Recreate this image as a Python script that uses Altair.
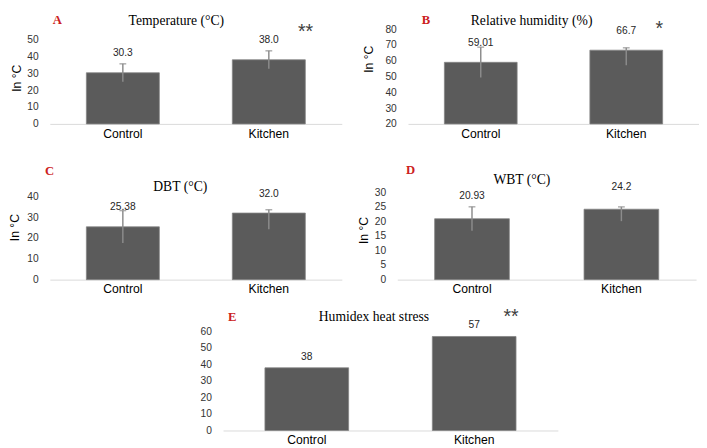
import altair as alt
import pandas as pd

cats = ["Control", "Kitchen"]

# Panel A - Temperature
a_vals = [30.3, 38.0]
a_up = [5.3, 5.3]
a_low = [5.3, 5.3]
a_lab = ["30.3", "38.0"]
a_star = ["", "**"]
a_ticks = [0, 10, 20, 30, 40, 50]

# Panel B - Relative humidity
b_vals = [59.01, 66.7]
b_up = [9.6, 1.5]
b_low = [9.6, 9.6]
b_lab = ["59.01", "66.7"]
b_star = ["", "*"]
b_ticks = [20, 30, 40, 50, 60, 70, 80]

# Panel C - DBT
c_vals = [25.38, 32.0]
c_up = [7.8, 1.6]
c_low = [7.8, 7.8]
c_lab = ["25.38", "32.0"]
c_star = ["", ""]
c_ticks = [0, 10, 20, 30, 40]

# Panel D - WBT
d_vals = [20.93, 24.2]
d_up = [4.1, 0.8]
d_low = [4.1, 4.1]
d_lab = ["20.93", "24.2"]
d_star = ["", ""]
d_ticks = [0, 5, 10, 15, 20, 25, 30]

# Panel E - Humidex
e_vals = [38, 57]
e_up = [0, 0]
e_low = [0, 0]
e_lab = ["38", "57"]
e_star = ["", "**"]
e_ticks = [0, 10, 20, 30, 40, 50, 60]

titles = ["Temperature (°C)", "Relative humidity (%)", "DBT (°C)", "WBT (°C)", "Humidex heat stress"]
letters = ["A", "B", "C", "D", "E"]
ytitle = "In °C"

BAR = "#5b5b5b"
ERR = "#8c8c8c"
SANS = "Liberation Sans"
SERIF = "Liberation Serif"


def panel(vals, up, low, labs, stars, domain, ticks, base, w, h,
          title, tpos, letter, lpos, ytit, ypos, label_dy, errors=True):
    df = pd.DataFrame({
        "cat": cats,
        "val": vals,
        "hi": [v + u for v, u in zip(vals, up)],
        "lo": [v - l for v, l in zip(vals, low)],
        "lab": labs,
        "star": stars,
    })
    xax = alt.Axis(labelAngle=0, domainColor="#d9d9d9", domainWidth=1, ticks=False,
                   tickSize=0, labelFont=SANS, labelFontSize=12.5, labelColor="#000000",
                   labelPadding=3.5)
    xs = alt.Scale(paddingInner=0.5, paddingOuter=0.25)
    ys = alt.Scale(domain=domain, nice=False, zero=False)
    ykw = dict(values=ticks, domain=False, ticks=False, tickSize=0, grid=False,
               labelFont=SANS, labelFontSize=10.5, labelColor="#333333", labelPadding=12)
    if ytit:
        ykw.update(titleFont=SANS, titleFontSize=12.5, titleFontWeight="normal",
                   titleColor="#000000", titleX=ypos[0], titleY=ypos[1])
    yax = alt.Axis(**ykw)

    def X():
        return alt.X("cat:N", sort=cats, title=None, scale=xs, axis=xax)

    def Y(f):
        return alt.Y(f, scale=ys, axis=yax, title=ytit if ytit else None)

    bars = alt.Chart().mark_bar(color=BAR, stroke="#858585", strokeWidth=0.8).encode(
        x=X(), y=Y("val:Q"), y2=alt.datum(base))
    layers = [bars]
    if errors:
        rule = alt.Chart().mark_rule(color=ERR, strokeWidth=1.5).encode(
            x=X(), y=Y("lo:Q"), y2="hi:Q")
        cap = alt.Chart().mark_tick(color=ERR, size=7, thickness=1.5).encode(
            x=X(), y=Y("hi:Q"))
        layers += [rule, cap]
    labels = alt.Chart().mark_text(font=SANS, fontSize=10.5, color="#262626",
                                   baseline="alphabetic", dy=label_dy).encode(
        x=X(), y=Y("val:Q"), text="lab:N")
    layers.append(labels)
    if any(s for s in stars):
        st = alt.Chart().transform_filter("datum.star != ''").mark_text(
            font=SANS, fontSize=20, color="#404040", align="left", baseline="alphabetic",
            dx=30, dy=-13.5).encode(x=X(), y=Y("hi:Q"), text="star:N")
        layers.append(st)
    ttl = alt.Chart(pd.DataFrame({"t": [title]})).mark_text(
        font=SERIF, fontSize=14, color="#000000", align="center", baseline="alphabetic"
    ).encode(x=alt.value(tpos[0]), y=alt.value(tpos[1]), text="t:N")
    let = alt.Chart(pd.DataFrame({"t": [letter]})).mark_text(
        font=SERIF, fontSize=13, fontWeight="bold", color="#cc2020", align="left",
        baseline="alphabetic"
    ).encode(x=alt.value(lpos[0]), y=alt.value(lpos[1]), text="t:N")
    layers += [ttl, let]
    return alt.layer(*layers, data=df).properties(width=w, height=h)


pa = panel(a_vals, a_up, a_low, a_lab, a_star, [0, 56.5], a_ticks, 0, 300, 98,
           titles[0], (130, -4), letters[0], (3, -5), ytitle, (-27.5, 50.5), -17)
pb = panel(b_vals, b_up, b_low, b_lab, b_star, [20, 80.4], b_ticks, 20, 299, 98,
           titles[1], (127, -4), letters[1], (14, -5), ytitle, (-33.5, 31), -17)
pc = panel(c_vals, c_up, c_low, c_lab, c_star, [0, 42.1], c_ticks, 0, 300, 90,
           titles[2], (134, -1), letters[2], (-5, -18), ytitle, (-29.5, 36), -17)
pd_ = panel(d_vals, d_up, d_low, d_lab, d_star, [0, 30.1], d_ticks, 0, 307, 90,
            titles[3], (128, -8), letters[3], (9, -19), ytitle, (-27.5, 39), -20)
pe = panel(e_vals, e_up, e_low, e_lab, e_star, [0, 60.2], e_ticks, 0, 344, 102,
           titles[4], (155, -10), letters[4], (5, -11), None, (0, 0), -8.5, errors=False)

spacer = alt.Chart(pd.DataFrame({"a": [0]})).mark_point(opacity=0).encode(
    x=alt.X("a:Q", axis=None), y=alt.Y("a:Q", axis=None)).properties(width=178, height=10)

row1 = alt.hconcat(pa, pb, spacing=68, bounds="flush")
row2 = alt.hconcat(pc, pd_, spacing=57, bounds="flush")
row3 = alt.hconcat(spacer, pe, spacing=0, bounds="flush")

top = alt.vconcat(row1, row2, spacing=25)
chart = (alt.vconcat(top, row3, spacing=12)
         .properties(padding=0)
         .configure(font=SANS, background="white")
         .configure_view(strokeWidth=0, stroke="transparent"))

chart.save("out.html", embed_options={"renderer": "svg", "actions": False})
